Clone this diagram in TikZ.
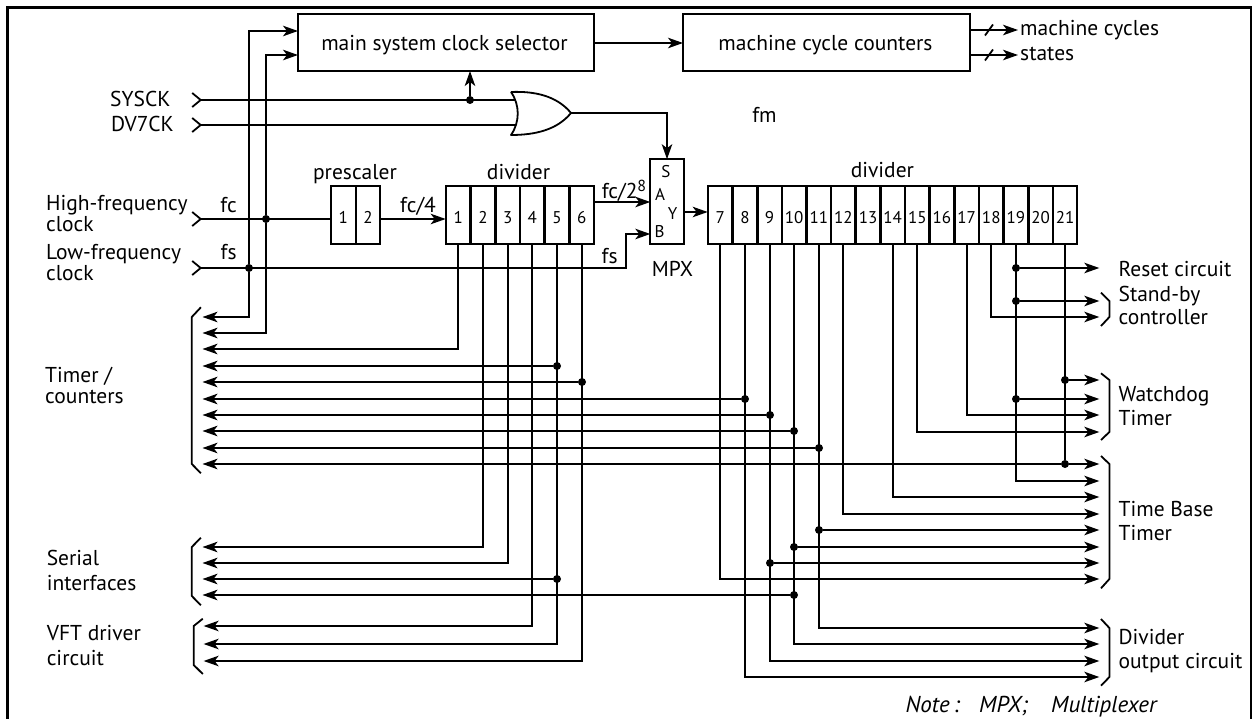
\documentclass[tikz,border=0pt]{standalone}
\usepackage{fontspec}
\setmainfont{PT Sans}
\usetikzlibrary{arrows.meta,calc}
\tikzset{
  ln/.style={line width=1.8pt},
  ar/.style={ln,-{Stealth[length=15pt,width=10.5pt,inset=4pt]}},
  frame/.style={draw,line width=1.9pt,inner sep=0pt,outer sep=0pt,rectangle},
  cell/.style={frame,minimum height=58pt},
  dot/.style={circle,fill=black,inner sep=0pt,minimum size=8pt},
  lbl/.style={inner sep=0pt,font=\fontsize{21.5}{21.5}\selectfont},
  lft/.style={lbl,anchor=base west},
  mid/.style={lbl,anchor=base},
  small/.style={inner sep=0pt,anchor=base,font=\fontsize{17}{17}\selectfont},
  nt/.style={inner sep=0pt,anchor=base west,font=\fontsize{23}{23}\selectfont\itshape}
}
\begin{document}
\begin{tikzpicture}[x=1pt,y=-1pt]
\useasboundingbox (0,0) rectangle (1253,719);
% frame
\coordinate (fa) at (7.5,719);\coordinate (fb) at (7.5,7.5);\coordinate (fc0) at (1251,7.5);\coordinate (fd) at (1251,719);
\draw[line width=2.4pt] (fa) -- (fb) -- (fc0) -- (fd);
% boxes
\node[frame,minimum width=296pt,minimum height=57pt] (sel) at (446,42.5) {};
\node[lbl,anchor=base] (tsel) at (444.5,50.7) {main system clock selector};
\node[frame,minimum width=287pt,minimum height=57pt] (cnt) at (826.5,42.5) {};
\node[lbl,anchor=base] (tcnt) at (825.5,50.7) {machine cycle counters};
\node[frame,minimum width=33.5pt,minimum height=85pt] (mpx) at (667,201.7) {};
% prescaler
\node[cell,minimum width=24.7pt] (p1) at (343.3,215) {};
\node[cell,minimum width=24.7pt] (p2) at (368,215) {};
\node[small] (np1) at (343.3,224) {1};
\node[small] (np2) at (368,224) {2};
% divider 1
\foreach \n in {1,...,6}{
  \node[cell,minimum width=24.67pt] (c\n) at ({round(446+24.67*(\n-0.5))},215) {};
  \node[small] (nc\n) at ({446+24.67*(\n-0.5)},224) {\n};
}
% divider 2
\foreach \n in {7,...,21}{
  \node[cell,minimum width=24.63pt] (c\n) at ({round(708+24.63*(\n-6.5))},215) {};
  \node[small] (nc\n) at ({708+24.63*(\n-6.5)},224) {\n};
}
% or gate
\coordinate (oa) at (511,92);\coordinate (ob) at (511,135);\coordinate (otip) at (571,113);
\coordinate (oi1) at (515,100);\coordinate (oi2) at (515,125);
\draw[ln,line join=round] (oa) .. controls (520,105) and (520,122) .. (ob)
   .. controls (535,135) and (557,130) .. (otip)
   .. controls (557,96) and (535,91) .. (oa);
% input chevrons
\coordinate (syc) at (200.7,100);\coordinate (dvc) at (200.7,125);\coordinate (fci) at (200.7,219);\coordinate (fsi) at (200.7,268);
\foreach \p in {syc,dvc,fci,fsi}{
  \draw[ln] ($(\p)+(-8.5,-7)$) -- (\p) -- ($(\p)+(-8.5,7)$);
}
\draw[ln] (syc) -- (oi1);
\draw[ln] (dvc) -- (oi2);
\node[dot] (jsy) at (470,100) {};
\draw[ar] (jsy) -- (jsy |- sel.south);
\draw[ar] (otip) -| (mpx.north);
\coordinate (mc) at (683,43);
\draw[ar] (sel.east |- mc) -- (mc);
% outputs of counters
\coordinate (oc1) at (1018,30);\coordinate (oc2) at (1018,55);
\draw[ar] (cnt.east |- oc1) -- (oc1);
\draw[ar] (cnt.east |- oc2) -- (oc2);
\foreach \p in {oc1,oc2}{\draw[ln] ($(\p)+(-33,5.5)$) -- ($(\p)+(-25,-5.5)$);}
% clock lines
\node[dot] (jfc) at (266,219) {};
\node[dot] (jfs) at (249,268) {};
\draw[ln] (fci) -- (p1.west |- fci);
\draw[ar] (p2.east |- fci) -- (c1.west |- fci);
\coordinate (mA) at (650.3,202);\coordinate (mB) at (650.3,234);\coordinate (mY) at (683.8,212);\coordinate (mK) at (626,268);
\draw[ar] (c6.east |- mA) -- (mA);
\draw[ar] (fsi) -- (mK) |- (mB);
\draw[ar] (mY) -- (c7.west |- mY);
% selector inputs
\coordinate (s1) at (298,31);\coordinate (s2) at (298,55);
% left ends
\foreach \n/\y in {1/317,2/333,3/349,4/366,5/382,6/399,7/415,8/431,9/448,10/464,11/547,12/563,13/579,14/595}{
  \coordinate (t\n) at (202.5,\y);
}
\foreach \n/\y in {15/626,16/644,17/661}{
  \coordinate (t\n) at (203.6,\y);
}
% right ends
\foreach \n/\y in {1/268,2/301,3/317,4/380,5/399,6/415,7/432,8/464,9/481,10/497,11/514,12/530,13/547,14/563,15/579,16/628,17/644,18/661,19/677}{
  \coordinate (r\n) at (1099.3,\y);
}
% verticals from clock lines
\draw[ar] (jfs) |- (s1);
\draw[ar] (jfc) |- (s2);
\draw[ar] (jfs) |- (t1);
\draw[ar] (jfc) |- (t2);
% divider 1 outputs
\draw[ar] (c1.south) |- (t3);
\draw[ar] (c2.south) |- (t11);
\draw[ar] (c3.south) |- (t12);
\draw[ar] (c4.south) |- (t15);
\draw[ar] (c5.south) |- (t16);
\draw[ar] (c6.south) |- (t17);
\node[dot] (j54) at (c5.south |- t4) {};
\node[dot] (j55) at (c5.south |- t13) {};
\node[dot] (j65) at (c6.south |- t5) {};
\draw[ar] (j54) -- (t4);
\draw[ar] (j55) -- (t13);
\draw[ar] (j65) -- (t5);
% divider 2 outputs
\draw[ar] (c7.south) |- (r15);
\draw[ar] (c8.south) |- (r19);
\draw[ar] (c9.south) |- (r18);
\draw[ar] (c10.south) |- (r17);
\draw[ar] (c11.south) |- (r16);
\draw[ar] (c12.south) |- (r11);
\draw[ar] (c14.south) |- (r10);
\draw[ar] (c15.south) |- (r7);
\draw[ar] (c17.south) |- (r6);
\draw[ar] (c18.south) |- (r3);
\draw[ar] (c19.south) |- (r9);
\node[dot] (j86) at (c8.south |- t6) {};
\node[dot] (j97) at (c9.south |- t7) {};
\node[dot] (j108) at (c10.south |- t8) {};
\node[dot] (j119) at (c11.south |- t9) {};
\node[dot] (j1014) at (c10.south |- t14) {};
\draw[ar] (j86) -- (t6);
\draw[ar] (j97) -- (t7);
\draw[ar] (j108) -- (t8);
\draw[ar] (j119) -- (t9);
\draw[ar] (j1014) -- (t14);
\node[dot] (j2110) at (c21.south |- t10) {};
\draw[ln] (c21.south) -- (j2110);
\draw[ar] (j2110) -- (t10);
\draw[ar] (j2110) -- (r8);
\node[dot] (j214) at (c21.south |- r4) {};
\draw[ar] (j214) -- (r4);
\node[dot] (j191) at (c19.south |- r1) {};
\node[dot] (j192) at (c19.south |- r2) {};
\node[dot] (j195) at (c19.south |- r5) {};
\draw[ar] (j191) -- (r1);
\draw[ar] (j192) -- (r2);
\draw[ar] (j195) -- (r5);
\node[dot] (j1112) at (c11.south |- r12) {};
\node[dot] (j1013) at (c10.south |- r13) {};
\node[dot] (j914) at (c9.south |- r14) {};
\draw[ar] (j1112) -- (r12);
\draw[ar] (j1013) -- (r13);
\draw[ar] (j914) -- (r14);
% left brackets
\draw[ln] (200.9,307.3) -- (191.8,317) -- (191.8,464) -- (200.9,473.3);
\draw[ln] (200.9,537.7) -- (191.8,547) -- (191.8,596) -- (200.9,605.3);
\draw[ln] (202.8,618.7) -- (193.7,626) -- (193.7,665) -- (202.8,674);
% right brackets
\draw[ln] (1101,292.7) -- (1109.4,301) -- (1109.4,317) -- (1101,326);
\draw[ln] (1101,373.3) -- (1109.4,380) -- (1109.4,432) -- (1101,440);
\draw[ln] (1101,456) -- (1109.4,464) -- (1109.4,579) -- (1101,588.3);
\draw[ln] (1101,619) -- (1109.4,628) -- (1109.4,677) -- (1101,685.7);
% labels
\node[lft] (l1) at (110,106.7) {SYSCK};
\node[lft] (l2) at (111,131.3) {DV7CK};
\node[lft] (l3) at (46,211) {High-frequency};
\node[lft] (l4) at (46,232) {clock};
\node[lft] (l5) at (46,259.3) {Low-frequency};
\node[lft] (l6) at (46,281) {clock};
\node[mid] (l7) at (228.6,212.7) {fc};
\node[mid] (l8) at (228.6,260) {fs};
\node[mid] (l9) at (418,212.7) {fc/4};
\node[mid] (l10) at (624,198.3) {fc/2\raisebox{7pt}{\fontsize{16}{16}\selectfont 8}};
\node[mid] (l11) at (609.6,264) {fs};
\node[mid] (l12) at (355,180) {prescaler};
\node[mid] (l13) at (518.6,180) {divider};
\node[mid] (l14) at (882.4,177.7) {divider};
\node[lft] (l15) at (1020,36) {machine cycles};
\node[lft] (l16) at (1020,61) {states};
\node[mid] (l17) at (764.5,122.7) {fm};
\node[mid] (l18) at (672.5,276.7) {MPX};
\node[small] (l19) at (666,177.7) {S};
\node[small] (l20) at (660,201) {A};
\node[small] (l21) at (672.5,219.3) {Y};
\node[small] (l22) at (659.5,237.3) {B};
\node[lft] (l23) at (1118.4,276.7) {Reset circuit};
\node[lft] (l24) at (1118.4,301.7) {Stand-by};
\node[lft] (l25) at (1118.4,325) {controller};
\node[lft] (l26) at (1118.4,401) {Watchdog};
\node[lft] (l27) at (1118.4,425.3) {Timer};
\node[lft] (l28) at (1118.4,516) {Time Base};
\node[lft] (l29) at (1118.4,540.7) {Timer};
\node[lft] (l30) at (1118.4,644.3) {Divider};
\node[lft] (l31) at (1118.4,668.3) {output circuit};
\node[lft] (l32) at (45,382.3) {Timer /};
\node[lft] (l33) at (45,403.3) {counters};
\node[lft] (l34) at (46.6,565) {Serial};
\node[lft] (l35) at (46.6,590) {interfaces};
\node[lft] (l36) at (46.6,640) {VFT driver};
\node[lft] (l37) at (46.6,665) {circuit};
\node[nt] (l38) at (905.4,712.3) {\spaceskip=4pt Note :};
\node[nt] (l39) at (979,712.3) {MPX;};
\node[nt] (l40) at (1051,712.3) {Multiplexer};
\end{tikzpicture}
\end{document}
